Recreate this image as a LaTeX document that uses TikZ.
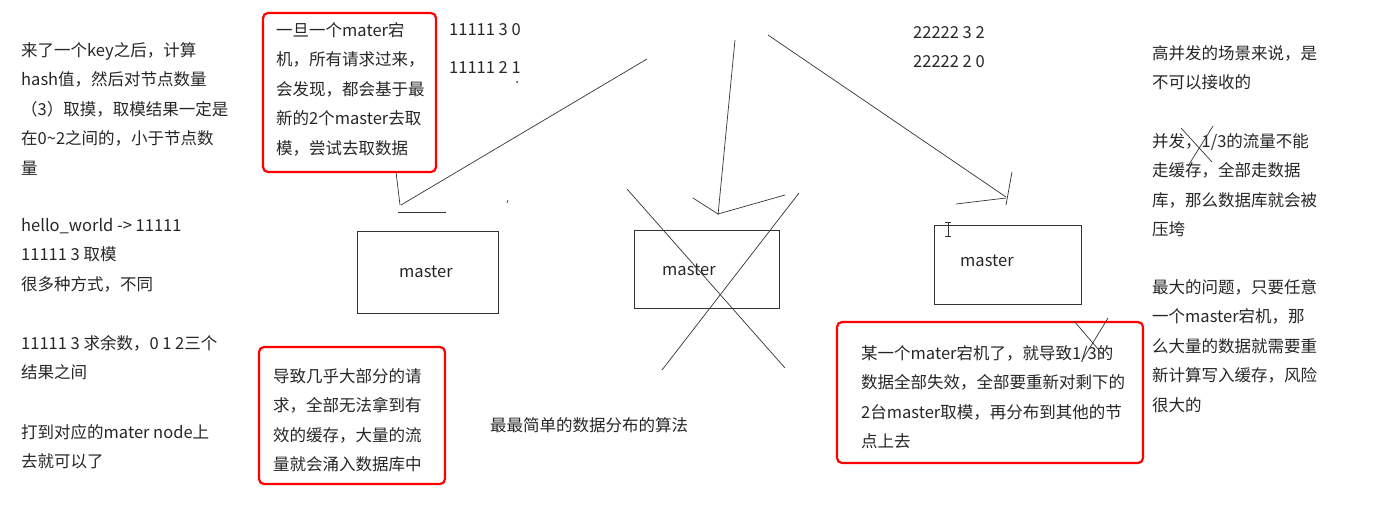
\documentclass[tikz,border=0pt]{standalone}
\usepackage{fontspec}
\setmainfont{Noto Sans CJK SC}
\begin{document}
\begin{tikzpicture}[x=1pt,y=-1pt,
  txt/.style={anchor=west,inner sep=0pt,font=\fontsize{16.5}{29.5}\selectfont,align=left,text=black!85},
  redbox/.style={draw=red,line width=2.2pt,rounded corners=5pt},
  mbox/.style={draw=black!80,line width=0.8pt},
  pen/.style={draw=black!80,line width=0.7pt}]
\useasboundingbox (0,0) rectangle (1389,512);
% left column
\node[txt,anchor=north west] (l1) at (21,42) {来了一个key之后，计算\\hash值，然后对节点数量\\（3）取摸，取模结果一定是\\在0\textasciitilde2之间的，小于节点数\\量};
\node[txt,anchor=north west] (l2) at (21,218) {hello\_world -> 11111\\11111 3 取模\\很多种方式，不同};
\node[txt,anchor=north west] (l3) at (21,335) {11111 3 求余数，0 1 2三个\\结果之间};
\node[txt,anchor=north west] (l4) at (21,424) {打到对应的mater node上\\去就可以了};
% red boxes
\draw[redbox] (263,13) rectangle (436,172);
\node[txt,anchor=north west] (r1) at (276,22) {一旦一个mater宕\\机，所有请求过来，\\会发现，都会基于最\\新的2个master去取\\模，尝试去取数据};
\draw[redbox] (259,347) rectangle (445,484);
\node[txt,anchor=north west] (r2) at (273,368) {导致几乎大部分的请\\求，全部无法拿到有\\效的缓存，大量的流\\量就会涌入数据库中};
\draw[redbox] (837,322) rectangle (1143,463);
\node[txt,anchor=north west] (r3) at (861,345) {某一个mater宕机了，就导致1/3的\\数据全部失效，全部要重新对剩下的\\2台master取模，再分布到其他的节\\点上去};
% numbers
\node[txt] (n1) at (449,30) {11111 3 0};
\node[txt] (n2) at (449,68) {11111 2 1};
\fill[black!80] (517,82) circle (1pt);
\node[txt] (n3) at (913,33) {22222 3 2};
\node[txt] (n4) at (913,62) {22222 2 0};
\node[txt] (alg) at (490,425) {最最简单的数据分布的算法};
% right column
\node[txt,anchor=north west] (q1) at (1152,45) {高并发的场景来说，是\\不可以接收的};
\node[txt,anchor=north west] (q2) at (1152,133) {并发，1/3的流量不能\\走缓存，全部走数据\\库，那么数据库就会被\\压垮};
\node[txt,anchor=north west] (q3) at (1152,279) {最大的问题，只要任意\\一个master宕机，那\\么大量的数据就需要重\\新计算写入缓存，风险\\很大的};
% masters
\draw[mbox] (357,231) rectangle (498,313);
\node[txt] (m1) at (399,272) {master};
\draw[mbox] (634,230) rectangle (779,308);
\node[txt] (m2) at (662,270) {master};
\draw[mbox] (934,225) rectangle (1081,304);
\node[txt] (m3) at (960,261) {master};
% strokes
\draw[pen] (647,59) -- (401,205);
\draw[pen] (396,172) -- (400,205);
\draw[pen] (398,212) -- (446,212);
\draw[pen] (508,200) -- (507,203);
\draw[pen] (735,40) -- (718,215);
\draw[pen] (693,198) -- (718,214) -- (785,195);
\draw[pen] (768,35) -- (1006,197);
\draw[pen] (1012,172) -- (1006,205);
\draw[pen] (956,204) -- (1006,198);
\draw[pen] (627,189) -- (785,368);
\draw[pen] (799,193) -- (662,370);
\draw[pen] (1181,128) -- (1212,162);
\draw[pen] (1213,126) -- (1188,166);
\draw[pen] (1074,321) -- (1104,356);
\draw[pen] (1108,318) -- (1083,359);
\draw[pen] (945,222) -- (951,222) (948,222) -- (948,236) (945,236) -- (951,236);
\end{tikzpicture}
\end{document}
